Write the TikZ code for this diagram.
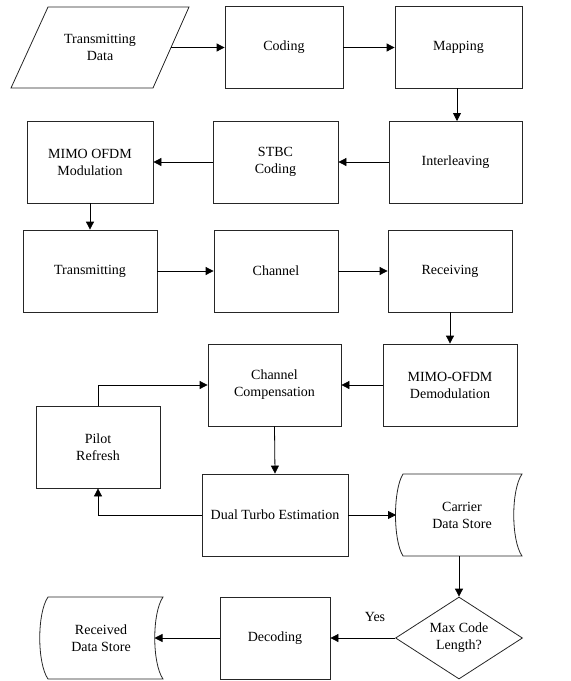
\documentclass[tikz,border=0pt]{standalone}
\usepackage{fontspec}
\setmainfont{Liberation Serif}
\usetikzlibrary{arrows.meta,shapes.geometric,calc}
\begin{document}
\begin{tikzpicture}[x=1pt,y=-1pt,
  every node/.style={font=\fontsize{14}{17}\selectfont, align=center, text=black},
  box/.style={draw=black!85, line width=0.8pt, minimum width=#1, minimum height=82pt, inner sep=0pt},
  lbl/.style={inner sep=0pt},
  outline/.style={draw=black!85, line width=0.8pt},
  arr/.style={draw=black, line width=0.8pt, -{Triangle[length=8pt,width=8pt]}},
  ln/.style={draw=black, line width=0.8pt}]
\useasboundingbox (0,0) rectangle (571,681);
% Transmitting data (parallelogram)
\draw[outline] (48,7) -- (189,7) -- (153,88) -- (11,88) -- cycle;
\node[lbl] (td) at (100,47.5) {Transmitting\\Data};
\coordinate (tdR) at (171,47.5);
% row 1
\node[box=118pt] (coding) at (284,47.5) {Coding};
\node[box=127pt] (mapping) at (458.5,47.5) {Mapping};
% row 2
\node[box=133pt] (inter) at (455.5,162) {Interleaving};
\node[box=125pt] (stbc) at (275.5,162) {STBC\\Coding};
\node[box=126pt] (mimo) at (90,162) {MIMO OFDM\\Modulation};
% row 3
\node[box=134pt] (trans) at (90,271) {Transmitting};
\node[box=124pt] (chan) at (276,271) {Channel};
\node[box=124pt] (recv) at (450,271) {Receiving};
% row 4
\node[box=133pt] (cc) at (274.5,385) {Channel\\Compensation};
\node[box=134pt] (demod) at (450,385) {MIMO-OFDM\\Demodulation};
\node[box=124pt] (pilot) at (98,447) {Pilot\\Refresh};
% row 5
\node[box=146pt] (dt) at (275,515) {Dual Turbo Estimation};
\draw[outline] (403,474) -- (522,474) .. controls (511,490) and (511,540) .. (522,556)
  -- (403,556) .. controls (393,540) and (393,490) .. (403,474) -- cycle;
\node[lbl] (carrier) at (462,515) {Carrier\\Data Store};
\coordinate (carrierL) at (396,515);
\coordinate (carrierB) at (459,556);
% row 6
\node[draw=black!85, line width=0.8pt, diamond, minimum width=127pt, minimum height=82pt, inner sep=0pt] (dia) at (459,638) {};
\node[lbl] at (dia.center) {Max Code\\Length?};
\node[box=110pt] (dec) at (275,638) {Decoding};
\draw[outline] (48,597) -- (163,597) .. controls (152,613) and (152,663) .. (163,679)
  -- (48,679) .. controls (37,663) and (37,613) .. (48,597) -- cycle;
\node[lbl] (recvd) at (101,638) {Received\\Data Store};
\coordinate (recvdR) at (154.5,638);
% connectors
\draw[arr] (tdR) -- (coding.west);
\draw[arr] (coding.east) -- (mapping.west);
\draw[arr] (457,88) -- (457,121);
\draw[arr] (inter.west) -- (stbc.east);
\draw[arr] (stbc.west) -- (mimo.east);
\draw[arr] (mimo.south) -- (trans.north);
\draw[arr] (trans.east) -- (chan.west);
\draw[arr] (chan.east) -- (recv.west);
\draw[arr] (recv.south) -- (demod.north);
\draw[arr] (demod.west) -- (cc.east);
\draw[arr] (pilot.north) |- (cc.west);
\draw[arr] (cc.south) -- (dt.north);
\draw[arr] (dt.west) -| (pilot.south);
\draw[arr] (dt.east) -- (carrierL);
\draw[arr] (carrierB) -- (dia.north);
\draw[arr] (dia.west) -- (dec.east);
\node[lbl] (yes) at (375,617) {Yes};
\draw[arr] (dec.west) -- (recvdR);
\end{tikzpicture}
\end{document}
